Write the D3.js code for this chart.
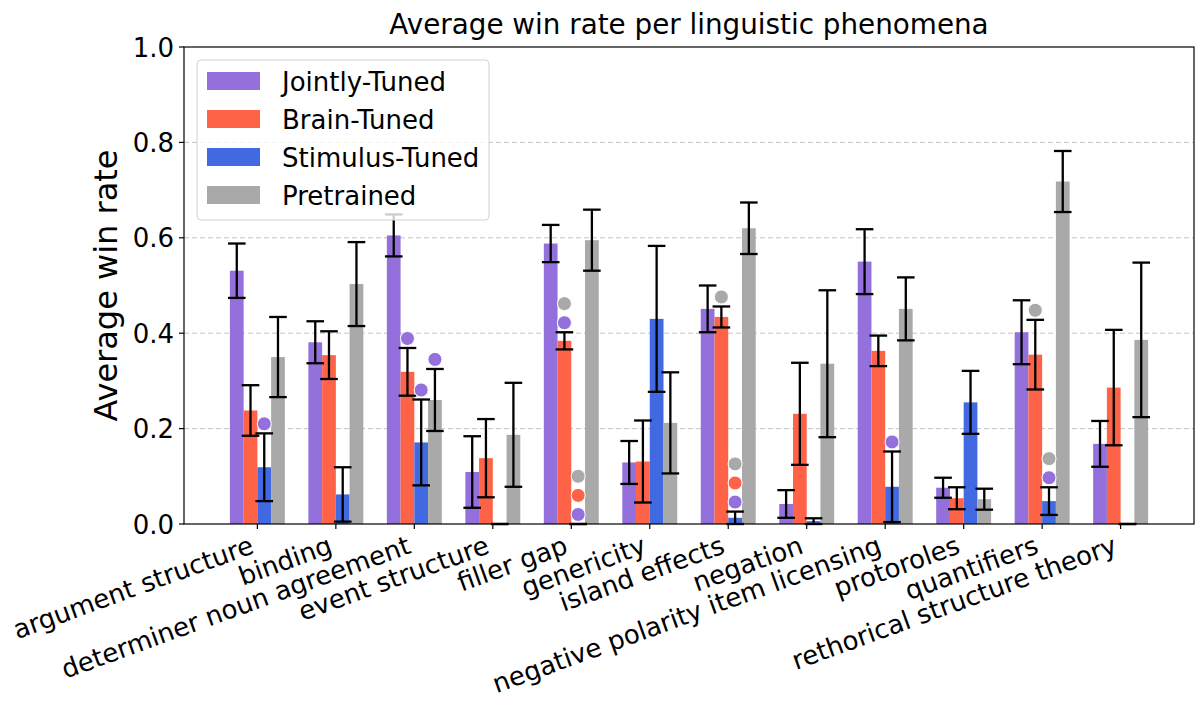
<!DOCTYPE html>
<html>
<head>
<meta charset="utf-8">
<script src="https://cdn.jsdelivr.net/npm/d3@7"></script>
<style>
  html, body { margin: 0; padding: 0; background: #fff; }
  text { font-family: "DejaVu Sans", sans-serif; fill: #000; }
</style>
</head>
<body>
<svg id="chart" width="1196" height="702"></svg>
<script>
const categories = ["argument structure","binding","determiner noun agreement","event structure","filler gap","genericity","island effects","negation","negative polarity item licensing","protoroles","quantifiers","rethorical structure theory"];
const seriesNames = ["Jointly-Tuned","Brain-Tuned","Stimulus-Tuned","Pretrained"];
const seriesColors = ["#9370DB","#FF6347","#4169E1","#A9A9A9"];

const jointly       = [0.531,0.381,0.605,0.109,0.588,0.129,0.451,0.042,0.550,0.076,0.402,0.168];
const jointlyErr    = [0.057,0.044,0.044,0.075,0.039,0.045,0.049,0.029,0.068,0.021,0.067,0.048];
const brain         = [0.238,0.354,0.319,0.138,0.384,0.131,0.434,0.231,0.363,0.054,0.355,0.286];
const brainErr      = [0.053,0.050,0.050,0.082,0.018,0.086,0.022,0.107,0.032,0.023,0.073,0.121];
const stimulus      = [0.119,0.062,0.171,0.000,0.000,0.430,0.013,0.006,0.078,0.255,0.048,0.000];
const stimulusErr   = [0.071,0.057,0.090,0.000,0.000,0.153,0.013,0.006,0.074,0.066,0.029,0.000];
const pretrained    = [0.350,0.503,0.260,0.187,0.595,0.212,0.620,0.336,0.451,0.052,0.718,0.386];
const pretrainedErr = [0.084,0.088,0.065,0.109,0.064,0.106,0.054,0.154,0.066,0.022,0.064,0.162];

// significance markers: category index, bar (series) index, marker series stacked from bottom
const markerCategory = [0, 2, 2, 2, 4, 4, 6, 6, 8, 10, 10];
const markerBar      = [2, 1, 2, 3, 1, 2, 1, 2, 2, 1, 2];
const markerSeries   = [["Jointly-Tuned"],["Jointly-Tuned"],["Jointly-Tuned"],["Jointly-Tuned"],
                        ["Jointly-Tuned","Pretrained"],["Jointly-Tuned","Brain-Tuned","Pretrained"],
                        ["Pretrained"],["Jointly-Tuned","Brain-Tuned","Pretrained"],
                        ["Jointly-Tuned"],["Pretrained"],["Jointly-Tuned","Pretrained"]];

const yTicks = [0.0,0.2,0.4,0.6,0.8,1.0];
const title = "Average win rate per linguistic phenomena";
const yLabel = "Average win rate";

const values = [jointly, brain, stimulus, pretrained];
const errors = [jointlyErr, brainErr, stimulusErr, pretrainedErr];

const svg = d3.select("#chart");
const L = 184, R = 1194, T = 47, B = 524;
const barW = 0.175;
const x = d3.scaleLinear().domain([-0.935, 11.935]).range([L, R]);
const y = d3.scaleLinear().domain([0, 1]).range([B, T]);
const color = d3.scaleOrdinal().domain(seriesNames).range(seriesColors);
const offset = s => (s - 1.5) * barW;

// grid
svg.append("g").selectAll("line").data([0.2,0.4,0.6,0.8]).join("line")
  .attr("x1", L).attr("x2", R).attr("y1", d => y(d)).attr("y2", d => y(d))
  .attr("stroke", "#c4c4c4").attr("stroke-width", 1).attr("stroke-dasharray", "5,3");

// bars
const gBars = svg.append("g");
values.forEach((vals, s) => {
  gBars.selectAll(null).data(vals).join("rect")
    .attr("x", (d, i) => x(i + offset(s) - barW / 2))
    .attr("width", x(barW) - x(0))
    .attr("y", d => y(d))
    .attr("height", d => y(0) - y(d))
    .attr("fill", seriesColors[s]);
});

// error bars
const cap = 8.8;
const gErr = svg.append("g").attr("stroke", "#000").attr("stroke-width", 2.3);
values.forEach((vals, s) => {
  vals.forEach((v, i) => {
    const e = errors[s][i];
    const cx = x(i + offset(s));
    gErr.append("line").attr("x1", cx).attr("x2", cx).attr("y1", y(v - e)).attr("y2", y(v + e));
    gErr.append("line").attr("x1", cx - cap).attr("x2", cx + cap).attr("y1", y(v + e)).attr("y2", y(v + e));
    gErr.append("line").attr("x1", cx - cap).attr("x2", cx + cap).attr("y1", y(v - e)).attr("y2", y(v - e));
  });
});

// markers
const gMk = svg.append("g");
markerCategory.forEach((c, m) => {
  const b = markerBar[m];
  const top = values[b][c] + errors[b][c];
  markerSeries[m].forEach((name, k) => {
    gMk.append("circle")
      .attr("cx", x(c + offset(b)))
      .attr("cy", y(top + 0.02 + 0.04 * k))
      .attr("r", 7)
      .attr("fill", color(name))
      .attr("stroke", "#fff").attr("stroke-width", 1);
  });
});

// spines
svg.append("rect").attr("x", L).attr("y", T).attr("width", R - L).attr("height", B - T)
  .attr("fill", "none").attr("stroke", "#000").attr("stroke-width", 1.2);

// y axis ticks
const fs = 26;
const gy = svg.append("g");
yTicks.forEach(t => {
  gy.append("line").attr("x1", L - 5).attr("x2", L).attr("y1", y(t)).attr("y2", y(t))
    .attr("stroke", "#000").attr("stroke-width", 1.2);
  gy.append("text").attr("x", L - 10).attr("y", y(t) + 9.5).attr("text-anchor", "end")
    .attr("font-size", fs).text(t.toFixed(1));
});

// x axis ticks and labels
const gx = svg.append("g");
const ang = 20, rad = ang * Math.PI / 180;
categories.forEach((c, i) => {
  const tx = x(i);
  gx.append("line").attr("x1", tx).attr("x2", tx).attr("y1", B).attr("y2", B + 5)
    .attr("stroke", "#000").attr("stroke-width", 1.2);
  const x0 = tx - 0.236 * fs * Math.sin(rad);
  const y0 = B + 10 + 0.76 * fs * Math.cos(rad);
  gx.append("text").attr("text-anchor", "end")
    .attr("font-size", fs)
    .attr("transform", `translate(${x0},${y0}) rotate(${-ang})`)
    .text(c);
});

// title
svg.append("text").attr("x", (L + R) / 2).attr("y", 34).attr("text-anchor", "middle")
  .attr("font-size", 27.8).text(title);

// y label
svg.append("text").attr("transform", `translate(117,${(T + B) / 2}) rotate(-90)`)
  .attr("text-anchor", "middle").attr("font-size", 32).text(yLabel);

// legend
const lg = svg.append("g");
lg.append("rect").attr("x", 197).attr("y", 60).attr("width", 292).attr("height", 160)
  .attr("rx", 4).attr("fill", "#fff").attr("fill-opacity", 0.8)
  .attr("stroke", "#d0d0d0").attr("stroke-width", 1);
seriesNames.forEach((n, k) => {
  const cy = 81 + 38 * k;
  lg.append("rect").attr("x", 207).attr("y", cy - 9).attr("width", 53).attr("height", 18)
    .attr("fill", color(n));
  lg.append("text").attr("x", 282).attr("y", cy + 9.5).attr("font-size", fs).text(n);
});
</script>
</body>
</html>
